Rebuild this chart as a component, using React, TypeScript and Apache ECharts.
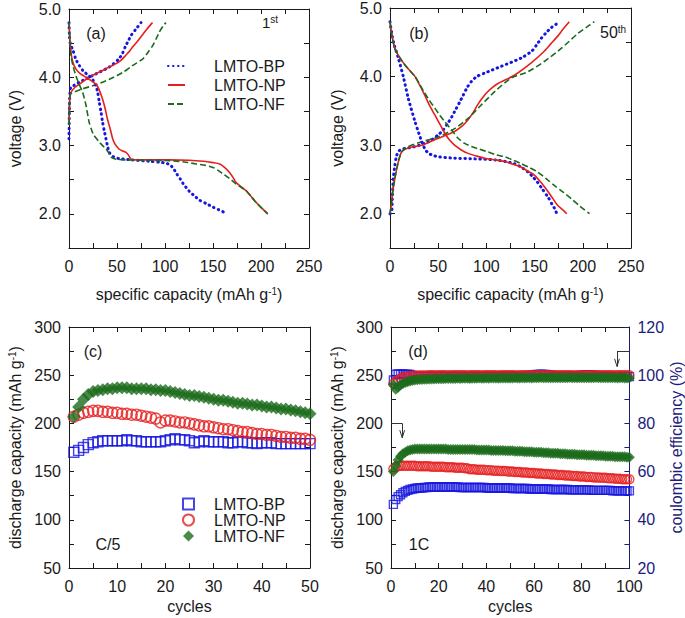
import React, { useEffect, useRef } from "react";
import * as echarts from "echarts";

const BLUE = "#1616e0";
const RED = "#e61e1e";
const GREEN = "#1c6b1c";
const NAVY = "#1c1c7c";
const INK = "#1a1a1a";
const FONT = '"Liberation Sans", Arial, sans-serif';

const materials = ["LMTO-BP", "LMTO-NP", "LMTO-NF"];

// ---- panel (a): 1st cycle, [specific capacity, voltage]
const aBpCharge = [[0,3.1],[0.4,3.5],[1,3.78],[2,3.85],[14,3.95],[28,4.05],[42,4.15],[52,4.27],[56,4.36],[59,4.46],[62,4.54],[65,4.62],[70,4.71],[75,4.8]];
const aNpCharge = [[0,3.3],[0.5,3.6],[1.2,3.74],[2,3.78],[6,3.85],[11,3.9],[21,4.0],[35,4.1],[49,4.2],[55,4.26],[59,4.32],[63,4.38],[66,4.44],[72,4.54],[77,4.63],[82,4.72],[87,4.8]];
const aNfCharge = [[0,3.3],[0.5,3.6],[1.2,3.72],[2,3.76],[14,3.83],[28,3.89],[42,3.97],[56,4.07],[66,4.17],[77,4.27],[82,4.36],[87,4.46],[91,4.57],[94,4.66],[98,4.75],[101,4.8]];
const aBpDischarge = [[0,4.8],[0.5,4.6],[1.5,4.48],[3.8,4.41],[7,4.27],[10.8,4.17],[15,4.09],[21,4.02],[25,3.96],[28,3.88],[30,3.77],[31.6,3.63],[33.5,3.48],[35,3.34],[37,3.2],[38.5,3.1],[40,3.0],[42,2.9],[46,2.84],[52,2.81],[66,2.79],[84,2.77],[95,2.755],[100,2.745],[105,2.72],[109,2.66],[112,2.59],[116,2.51],[119,2.44],[123,2.37],[126,2.32],[131,2.26],[136,2.2],[143,2.15],[150,2.1],[156,2.06],[162,2.02],[164,2.0]];
const aNpDischarge = [[0,4.8],[1,4.55],[2,4.37],[4,4.22],[7.3,4.12],[12,4.05],[17.7,4.0],[23,3.95],[28,3.9],[31,3.83],[35,3.68],[37.5,3.55],[40,3.39],[43,3.24],[45.5,3.1],[48,3.02],[52,2.95],[56,2.92],[59.4,2.9],[62,2.86],[64.6,2.8],[70,2.79],[90,2.79],[105,2.79],[125,2.785],[140,2.77],[150,2.75],[157,2.73],[162,2.68],[167,2.61],[171,2.53],[174,2.46],[180,2.39],[184.5,2.34],[190,2.25],[194.8,2.17],[201,2.08],[207,2.0]];
const aNfDischarge = [[0,4.8],[1,4.5],[2,4.32],[4.5,4.15],[7.3,4.02],[10.5,3.9],[14.2,3.78],[17.7,3.59],[21,3.34],[24,3.21],[26,3.15],[31.6,3.05],[35,3.0],[38.5,2.95],[41,2.9],[43.7,2.83],[49,2.8],[60,2.79],[80,2.785],[105,2.78],[120,2.76],[132.8,2.73],[142,2.71],[150,2.68],[155,2.64],[160,2.59],[167,2.52],[174,2.44],[180,2.38],[184.5,2.34],[190,2.25],[194.8,2.17],[201,2.08],[207,2.0]];

// ---- panel (b): 50th cycle
const bBpCharge = [[0,2.0],[1.7,2.02],[2.5,2.25],[3.4,2.51],[5,2.7],[6.9,2.85],[9,2.91],[12,2.94],[26,2.98],[40,3.05],[50,3.15],[55,3.22],[60,3.32],[64,3.41],[67,3.49],[72,3.62],[76,3.73],[80,3.84],[84.5,3.93],[90,4.0],[98,4.05],[115.5,4.15],[136,4.27],[147,4.37],[152,4.46],[157,4.56],[162,4.64],[167,4.71],[172,4.76],[176,4.8]];
const bNpCharge = [[0,2.0],[1.5,2.15],[3,2.35],[5,2.51],[8,2.72],[12,2.9],[19,2.96],[33,3.0],[50,3.1],[67,3.2],[75,3.28],[81,3.37],[86,3.47],[91,3.59],[96,3.69],[100,3.76],[106,3.84],[112,3.9],[129,4.02],[146.5,4.2],[160,4.37],[167,4.48],[174,4.59],[180,4.7],[186,4.8]];
const bNfCharge = [[0,2.0],[1.5,2.15],[3,2.35],[5,2.51],[8,2.72],[12,2.9],[19,2.98],[33,3.05],[50,3.12],[67,3.24],[81,3.39],[95,3.59],[108.6,3.78],[126,3.98],[143,4.07],[160,4.22],[177.6,4.41],[195,4.63],[204,4.72],[212,4.8]];
const bBpDischarge = [[0,4.8],[1,4.7],[3.4,4.51],[8.6,4.27],[13.8,4.0],[19,3.68],[26,3.34],[30,3.17],[33,3.05],[36,2.95],[40,2.88],[45,2.85],[50,2.83],[67,2.81],[88,2.8],[112,2.78],[129,2.73],[136,2.68],[143,2.61],[148,2.54],[153,2.46],[158,2.36],[164,2.24],[168,2.14],[171,2.07],[173,2.0]];
const bNpDischarge = [[0,4.8],[2,4.6],[5,4.41],[10,4.28],[15.5,4.17],[21,4.08],[26,4.0],[31,3.87],[36,3.73],[41,3.58],[46.5,3.44],[52,3.3],[57,3.17],[62,3.07],[67,3.0],[74,2.93],[81,2.88],[90,2.84],[98,2.81],[110,2.785],[119,2.76],[128,2.72],[136,2.68],[143,2.62],[150,2.56],[157,2.45],[164,2.32],[169,2.22],[174,2.12],[179,2.06],[183.4,2.0]];
const bNfDischarge = [[0,4.8],[2,4.6],[5,4.41],[10,4.28],[15.5,4.17],[21,4.08],[26,4.0],[31,3.88],[36,3.76],[41,3.65],[46.5,3.54],[52,3.43],[57,3.34],[64,3.22],[70.7,3.1],[77,3.03],[84.5,2.98],[93,2.94],[101.7,2.9],[110,2.86],[119,2.83],[128,2.78],[136,2.73],[145,2.67],[153,2.61],[162,2.51],[170.7,2.41],[180,2.31],[188,2.22],[197,2.11],[207,2.0]];

// ---- panel (c): discharge capacity at C/5, cycles 1..50
const cBp = [170,172,175,178,180,181,182,182,182,182,182,183,182,182,181,181,181,181,181,182,183,184,183,183,182,180,181,182,181,181,181,181,180,180,181,181,180,180,179,180,180,180,179,179,179,179,179,179,179,179];
const cNp = [207,209,211,212,213,213,212,212,211,211,210,210,209,209,208,207,206,205,201,203,203,202,201,201,200,199,198,197,197,196,195,194,194,193,192,191,191,190,189,189,188,188,187,186,186,185,185,184,184,183];
const cNf = [207,217,225,230,233,234,235,236,236,237,237,237,236,236,236,236,235,235,234,234,233,232,231,230,229,229,228,227,226,225,224,224,223,222,221,221,220,219,219,218,217,217,216,215,215,214,213,212,211,210];

// ---- panel (d): discharge capacity at 1C, cycles 1..100
const dBp = [
  116,121,124,126,128,129.5,130.5,131.5,132,132.5,
  133,133,133,133.5,133.5,134,134,134,134,134,
  134,134,134,134,134,134,134,134,133.5,133.5,
  133.5,133.5,133.5,133.5,133.5,133.5,133.5,133.5,133.5,133,
  133,133,133,133,133,133,133,133,133,133,
  132.5,132.5,132.5,132.5,132.5,132.5,132.5,132,132,132,
  132,132,132,132,132,132,131.5,131.5,131.5,131.5,
  131.5,131.5,131.5,131.5,131,131,131,131,131,131,
  131,131,131,130.5,130.5,130.5,130.5,130.5,130.5,130.5,
  130.5,130.5,130,130,130,130,130,130,130,130];
const dNp = [
  153,155,155.5,156,156,156,156,156,156,156,
  155.5,155.5,155.5,155.5,155.5,155.5,155,155,155,155,
  155,155,154.5,154.5,154.5,154.5,154,154,154,154,
  153.5,153.5,152.5,152.5,152.5,152,152,152,152,151.5,
  151.5,151.5,151,151,151,150.5,150.5,150.5,150,150,
  150,149.5,149.5,149.5,149,149,149,148.5,148.5,148.5,
  148,148,148,147.5,147.5,147.5,147,147,147,146.5,
  146.5,146.5,146,146,146,145.5,145.5,145.5,145,145,
  145,144.5,144.5,144.5,144,144,144,143.5,143.5,143.5,
  143,143,143,142.5,142.5,142.5,142,142,142,142];
const dNf = [
  150,156,162,166,168.5,170,171.5,172.5,173,173.5,
  173.5,173.5,173.5,173.5,173.5,173.5,173.5,173.5,173.5,173.5,
  173.5,173.5,173.5,173,173,173,173,173,173,173,
  173,173,173,173,173,172.5,172.5,172.5,172.5,172.5,
  172.5,172,172,172,172,172,172,171.5,171.5,171.5,
  171.5,171,171,171,171,170.5,170.5,170.5,170.5,170,
  170,170,170,169.5,169.5,169.5,169,169,169,169,
  168.5,168.5,168.5,168,168,168,168,167.5,167.5,167.5,
  167.5,167,167,167,167,166.5,166.5,166.5,166.5,166,
  166,166,166,165.5,165.5,165.5,165.5,165.5,165,165];

// ---- panel (d): coulombic efficiency (%), cycles 1..100
const ceBp = [
  98,100.4,100.5,100.5,100.5,100.4,100.4,100.3,100,99.8,
  99.7,99.7,99.6,99.6,99.6,99.6,99.6,99.6,99.6,99.6,
  99.6,99.6,99.5,99.6,99.6,99.5,99.6,99.6,99.5,99.6,
  99.6,99.6,99.5,99.6,99.6,99.6,99.5,99.6,99.6,99.6,
  99.6,99.6,99.6,99.7,99.6,99.6,99.6,99.7,99.6,99.6,
  99.7,99.6,99.7,99.7,99.7,99.8,99.8,99.9,100,100.2,
  100.3,100.3,100.4,100.3,100.3,100.2,100,99.8,99.7,99.7,
  99.7,99.7,99.7,99.7,99.6,99.7,99.7,99.7,99.8,99.9,
  100.1,100.2,100.2,100.1,99.9,99.7,99.6,99.6,99.6,99.6,
  99.6,99.5,99.5,99.5,99.5,99.5,99.5,99.5,99.5,99.4];
const ceNp = [
  96.5,97.4,98.1,98.6,99,99.3,99.5,99.6,99.7,99.8,
  99.8,99.9,99.9,99.9,99.9,100,100,100,99.9,100,
  100,100,100,99.9,100,100,100,100,100,100,
  100,99.9,100,100,100,100,100,99.9,100,100,
  100,100,100,100,99.9,100,100,100,100,100,
  100,100,99.9,100,100,100,100,100,100,99.9,
  100,100,100,100,100,99.9,100,100,100,100,
  100,100,100,100,100,100,99.9,100,100,100,
  100,100,99.9,100,100,100,100,100,100,100,
  100,100,100,99.9,100,100,100,100,100,100];
const ceNf = [
  96,94.2,95,96,96.6,97,97.3,97.6,97.8,98,
  98.1,98.2,98.2,98.3,98.3,98.4,98.4,98.4,98.5,98.5,
  98.5,98.5,98.6,98.6,98.6,98.6,98.6,98.7,98.6,98.7,
  98.7,98.7,98.6,98.7,98.7,98.7,98.8,98.7,98.7,98.8,
  98.7,98.8,98.8,98.8,98.7,98.8,98.8,98.8,98.8,98.8,
  98.8,98.9,98.8,98.8,98.9,98.8,98.9,98.9,98.8,98.9,
  98.9,98.9,99,98.9,98.9,98.9,98.9,98.9,98.9,98.9,
  98.9,98.9,98.9,98.9,99,98.9,98.9,98.9,98.9,98.9,
  98.9,98.9,98.9,98.9,98.9,99,98.9,98.9,98.9,98.9,
  98.9,98.9,98.9,98.9,98.8,98.9,98.9,98.8,98.8,98.8];

const voltTicks = { min: 1.5, max: 5.0, interval: 0.5 };
const capTicks = { min: 0, max: 250, interval: 50 };
const dischargeTicks = { min: 50, max: 300, interval: 50 };
const ceTicks = { min: 20, max: 120, interval: 20 };

const tickLine = { color: INK, width: 1 };

function axisBase(extra: any) {
  return {
    type: "value",
    axisLine: { show: true, onZero: false, lineStyle: tickLine },
    axisTick: { show: true, inside: true, length: 5, lineStyle: tickLine },
    splitLine: { show: false },
    minorSplitLine: { show: false },
    axisLabel: { fontSize: 16, color: INK, fontFamily: FONT, margin: 9 },
    nameTextStyle: { fontSize: 16, color: INK, fontFamily: FONT },
    ...extra,
  };
}

function supRich(color: string) {
  return {
    sup: { fontSize: 10, verticalAlign: "top", fontFamily: FONT, color },
  };
}

function mirror(pos: string, gridIndex: number, ticks: any, minor: number) {
  return axisBase({
    gridIndex,
    position: pos,
    ...ticks,
    axisLabel: { show: false },
    minorTick: minor ? { show: true, splitNumber: minor, length: 5, lineStyle: tickLine } : { show: false },
  });
}

const voltLabel = (v: number) => (v % 1 === 0 ? v.toFixed(1) : "");

function curve(name: string, data: number[][], color: string, kind: string, idx: number) {
  const lineStyle =
    kind === "dot"
      ? { color, width: 3, type: [0.5, 4.5], cap: "round" }
      : kind === "dash"
      ? { color, width: 1.6, type: [6, 3] }
      : { color, width: 1.6 };
  return {
    type: "line",
    name,
    data,
    xAxisIndex: idx,
    yAxisIndex: idx,
    symbol: "none",
    smooth: 0.25,
    silent: true,
    lineStyle,
    itemStyle: { color },
  };
}

function markers(name: string, vals: number[], shape: string, size: number, color: string, filled: boolean, xi: number, yi: number, extra: any = {}) {
  return {
    type: "scatter",
    name,
    xAxisIndex: xi,
    yAxisIndex: yi,
    symbol: shape,
    symbolSize: size,
    silent: true,
    itemStyle: filled
      ? { color, borderWidth: 0 }
      : { color: "rgba(255,255,255,0)", borderColor: color, borderWidth: 1.4 },
    data: vals.map((v, i) => [i + 1, v]),
    ...extra,
  };
}

const arrowLines = [
  [[0, 200], [4.7, 200]],
  [[4.7, 200], [4.7, 185]],
  [[4.7, 185], [3.7, 193]],
  [[4.7, 185], [5.7, 193]],
  [[100, 274.5], [94.8, 274.5]],
  [[94.8, 274.5], [94.8, 259]],
  [[94.8, 259], [93.8, 267]],
  [[94.8, 259], [95.8, 267]],
];

export default function App() {
  const ref = useRef<HTMLDivElement>(null);
  useEffect(() => {
    if (!ref.current) return;
    const chart = echarts.init(ref.current, undefined, { renderer: "svg" });
    const capName = "specific capacity (mAh g{sup|-1})";
    const dcName = "discharge capacity (mAh g{sup|-1})";
    const option: any = {
      animation: false,
      backgroundColor: "#ffffff",
      textStyle: { fontFamily: FONT },
      grid: [
        { left: 69, top: 9, width: 240, height: 239 },
        { left: 390, top: 8, width: 241, height: 240 },
        { left: 69, top: 327, width: 241, height: 241 },
        { left: 391, top: 327, width: 239, height: 241 },
      ],
      xAxis: [
        axisBase({
          gridIndex: 0, position: "bottom", ...capTicks,
          minorTick: { show: true, splitNumber: 2, length: 5, lineStyle: tickLine },
          axisLabel: { fontSize: 16, color: INK, fontFamily: FONT, margin: 10 },
          name: capName, nameLocation: "middle", nameGap: 38,
          nameTextStyle: { fontSize: 16, color: INK, fontFamily: FONT, rich: supRich(INK) },
        }),
        mirror("top", 0, capTicks, 2),
        axisBase({
          gridIndex: 1, position: "bottom", ...capTicks,
          minorTick: { show: true, splitNumber: 2, length: 5, lineStyle: tickLine },
          axisLabel: { fontSize: 16, color: INK, fontFamily: FONT, margin: 10 },
          name: capName, nameLocation: "middle", nameGap: 38,
          nameTextStyle: { fontSize: 16, color: INK, fontFamily: FONT, rich: supRich(INK) },
        }),
        mirror("top", 1, capTicks, 2),
        axisBase({
          gridIndex: 2, position: "bottom", min: 0, max: 50, interval: 10,
          minorTick: { show: true, splitNumber: 2, length: 5, lineStyle: tickLine },
          axisLabel: { fontSize: 16, color: INK, fontFamily: FONT, margin: 10 },
          name: "cycles", nameLocation: "middle", nameGap: 30,
        }),
        mirror("top", 2, { min: 0, max: 50, interval: 10 }, 2),
        axisBase({
          gridIndex: 3, position: "bottom", min: 0, max: 100, interval: 20,
          minorTick: { show: true, splitNumber: 2, length: 5, lineStyle: tickLine },
          axisLabel: { fontSize: 16, color: INK, fontFamily: FONT, margin: 10 },
          name: "cycles", nameLocation: "middle", nameGap: 30,
        }),
        mirror("top", 3, { min: 0, max: 100, interval: 20 }, 2),
      ],
      yAxis: [
        axisBase({
          gridIndex: 0, position: "left", ...voltTicks,
          axisLabel: { fontSize: 16, color: INK, fontFamily: FONT, margin: 8, formatter: voltLabel },
          name: "voltage (V)", nameLocation: "middle", nameGap: 46,
        }),
        mirror("right", 0, voltTicks, 0),
        axisBase({
          gridIndex: 1, position: "left", ...voltTicks,
          axisLabel: { fontSize: 16, color: INK, fontFamily: FONT, margin: 8, formatter: voltLabel },
          name: "voltage (V)", nameLocation: "middle", nameGap: 45,
        }),
        mirror("right", 1, voltTicks, 0),
        axisBase({
          gridIndex: 2, position: "left", ...dischargeTicks,
          minorTick: { show: true, splitNumber: 2, length: 5, lineStyle: tickLine },
          axisLabel: { fontSize: 16, color: INK, fontFamily: FONT, margin: 8 },
          name: dcName, nameLocation: "middle", nameGap: 46,
          nameTextStyle: { fontSize: 16, color: INK, fontFamily: FONT, rich: supRich(INK) },
        }),
        mirror("right", 2, dischargeTicks, 2),
        axisBase({
          gridIndex: 3, position: "left", ...dischargeTicks,
          minorTick: { show: true, splitNumber: 2, length: 5, lineStyle: tickLine },
          axisLabel: { fontSize: 16, color: INK, fontFamily: FONT, margin: 8 },
          name: dcName, nameLocation: "middle", nameGap: 46,
          nameTextStyle: { fontSize: 16, color: INK, fontFamily: FONT, rich: supRich(INK) },
        }),
        axisBase({
          gridIndex: 3, position: "right", ...ceTicks,
          axisLine: { show: true, onZero: false, lineStyle: { color: NAVY, width: 1 } },
          axisTick: { show: true, inside: true, length: 5, lineStyle: { color: NAVY, width: 1 } },
          minorTick: { show: true, splitNumber: 2, length: 5, lineStyle: { color: NAVY, width: 1 } },
          axisLabel: { fontSize: 16, color: NAVY, fontFamily: FONT, margin: 8 },
          name: "coulombic efficiency (%)", nameLocation: "middle", nameGap: 38, nameRotate: 90,
          nameTextStyle: { fontSize: 16, color: NAVY, fontFamily: FONT },
        }),
      ],
      legend: [
        {
          data: materials,
          orient: "vertical",
          left: 162,
          top: 53,
          itemWidth: 17,
          itemHeight: 12,
          itemGap: 3,
          selectedMode: false,
          itemStyle: { color: "rgba(0,0,0,0)", borderWidth: 0, opacity: 0 },
          textStyle: { fontSize: 16, color: INK, fontFamily: FONT, padding: [0, 0, 0, 24] },
        },
        {
          data: materials.map((m) => "c:" + m),
          orient: "vertical",
          left: 177,
          top: 491,
          itemWidth: 11,
          itemHeight: 11,
          itemGap: 0,
          selectedMode: false,
          formatter: (n: string) => n.replace("c:", ""),
          textStyle: { fontSize: 16, color: INK, fontFamily: FONT, padding: [0, 0, 0, 15] },
        },
      ],
      graphic: [
        { type: "text", x: 96, y: 33, style: { text: "(a)", font: `16px ${FONT}`, fill: INK, align: "center", verticalAlign: "middle" } },
        { type: "text", x: 419, y: 33, style: { text: "(b)", font: `16px ${FONT}`, fill: INK, align: "center", verticalAlign: "middle" } },
        { type: "text", x: 93, y: 351, style: { text: "(c)", font: `16px ${FONT}`, fill: INK, align: "center", verticalAlign: "middle" } },
        { type: "text", x: 418, y: 351, style: { text: "(d)", font: `16px ${FONT}`, fill: INK, align: "center", verticalAlign: "middle" } },
        { type: "text", x: 108, y: 544, style: { text: "C/5", font: `16px ${FONT}`, fill: INK, align: "center", verticalAlign: "middle" } },
        { type: "text", x: 419, y: 544, style: { text: "1C", font: `16px ${FONT}`, fill: INK, align: "center", verticalAlign: "middle" } },
        {
          type: "text", x: 262, y: 22,
          style: { text: "1{s|st}", font: `15px ${FONT}`, fill: INK, verticalAlign: "middle",
            rich: { s: { fontSize: 10, verticalAlign: "top", fontFamily: FONT, fill: INK } } },
        },
        {
          type: "text", x: 600, y: 32,
          style: { text: "50{s|th}", font: `16px ${FONT}`, fill: INK, verticalAlign: "middle",
            rich: { s: { fontSize: 10, verticalAlign: "top", fontFamily: FONT, fill: INK } } },
        },
      ],
      series: [
        curve("LMTO-BP", aBpCharge, BLUE, "dot", 0),
        curve("LMTO-NP", aNpCharge, RED, "solid", 0),
        curve("LMTO-NF", aNfCharge, GREEN, "dash", 0),
        curve("LMTO-BP", aBpDischarge, BLUE, "dot", 0),
        curve("LMTO-NP", aNpDischarge, RED, "solid", 0),
        curve("LMTO-NF", aNfDischarge, GREEN, "dash", 0),
        curve("LMTO-BP", bBpCharge, BLUE, "dot", 2),
        curve("LMTO-NP", bNpCharge, RED, "solid", 2),
        curve("LMTO-NF", bNfCharge, GREEN, "dash", 2),
        curve("LMTO-BP", bBpDischarge, BLUE, "dot", 2),
        curve("LMTO-NP", bNpDischarge, RED, "solid", 2),
        curve("LMTO-NF", bNfDischarge, GREEN, "dash", 2),
        markers("c:LMTO-BP", cBp, "rect", 10, BLUE, false, 4, 4),
        markers("c:LMTO-NP", cNp, "circle", 11, RED, false, 4, 4),
        markers("c:LMTO-NF", cNf, "diamond", 13, GREEN, true, 4, 4),
        markers("d:LMTO-BP", dBp, "rect", 8, BLUE, false, 6, 6, {
          markLine: {
            silent: true,
            symbol: ["none", "none"],
            label: { show: false },
            lineStyle: { color: "#333", width: 1, type: "solid" },
            data: arrowLines.map(([p, q]) => [{ coord: p }, { coord: q }]),
          },
        }),
        markers("d:LMTO-NP", dNp, "circle", 9, RED, false, 6, 6),
        markers("d:LMTO-NF", dNf, "diamond", 11, GREEN, true, 6, 6),
        markers("d:CE-BP", ceBp, "rect", 8, BLUE, false, 6, 7),
        markers("d:CE-NP", ceNp, "circle", 9, RED, false, 6, 7),
        markers("d:CE-NF", ceNf, "diamond", 11, GREEN, true, 6, 7),
      ],
    };
    chart.setOption(option);
    return () => chart.dispose();
  }, []);
  return (
    <div
      ref={ref}
      style={{ position: "fixed", left: 0, top: 0, width: 685, height: 618, background: "#fff" }}
    />
  );
}
